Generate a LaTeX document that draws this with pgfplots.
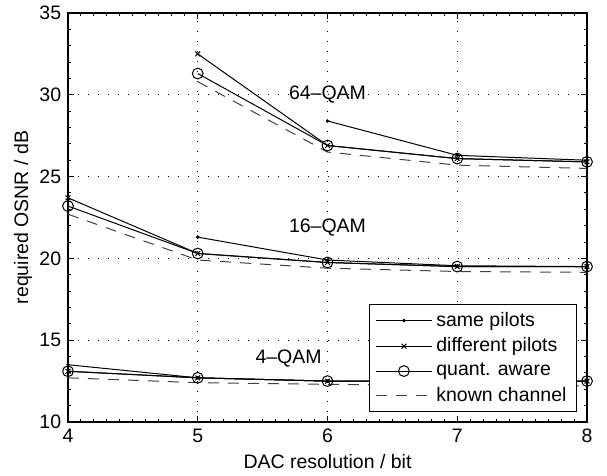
\documentclass[border=0pt]{standalone}
\usepackage{fontspec}
\setmainfont{Liberation Sans}
\usepackage{pgfplots}
\pgfplotsset{compat=1.18}
\begin{document}
\fontsize{9.75pt}{11.7pt}\selectfont
\begin{tikzpicture}
\useasboundingbox (-34pt,-27pt) rectangle (269.5pt,211pt);
\begin{axis}[
  at={(0,0)}, anchor=south west,
  scale only axis, width=259.5pt, height=204.5pt,
  xmin=4, xmax=8, ymin=10, ymax=35,
  xtick={4,5,6,7,8}, ytick={10,15,20,25,30,35},
  minor y tick num=4, minor x tick num=9,
  tick align=inside, tick pos=both,
  major tick length=3pt, minor tick length=1.5pt,
  grid=major,
  major grid style={black, line width=0.4pt, dash pattern=on 0.5pt off 4.5pt},
  axis line style={line width=0.6pt},
  tick style={black, line width=0.5pt},
  font=\fontsize{9.75pt}{11.7pt}\selectfont,
  /pgf/number format/assume math mode=true,
  xlabel={DAC resolution / bit}, ylabel={required OSNR / dB},
  xlabel style={at={(axis description cs:0.5,-0.0978)}, anchor=center},
  ylabel style={at={(axis description cs:-0.0867,0.5)}, anchor=center},
  legend style={at={(rel axis cs:1,0)}, anchor=south east, xshift=-5pt, yshift=5pt,
    draw=black, line width=0.5pt, inner xsep=3pt, inner ysep=1.5pt,
    font=\fontsize{9.75pt}{11.7pt}\selectfont, row sep=0.3pt},
  legend cell align=left,
  legend image code/.code={\draw[mark repeat=2,mark phase=2,#1] plot coordinates {(0pt,0pt)(14pt,0pt)(28pt,0pt)};},
  every axis plot/.append style={line width=0.5pt},
]
% legend series (64-QAM)
\addplot[black, mark=*, mark size=0.6pt] coordinates {(6,28.4) (7,26.3) (8,26.0)};
\addlegendentry{same pilots}
\addplot[black, mark=x, mark size=1.7pt] coordinates {(5,32.5) (6,26.9) (7,26.1) (8,25.9)};
\addlegendentry{different pilots}
\addplot[black, mark=o, mark size=2.7pt] coordinates {(5,31.3) (6,26.9) (7,26.1) (8,25.9)};
\addlegendentry{quant. aware}
\addplot[black!75, dash pattern=on 5.5pt off 4.5pt] coordinates {(5,30.8) (6,26.5) (7,25.7) (8,25.5)};
\addlegendentry{known channel}
% 16-QAM
\addplot[black, mark=*, mark size=0.6pt, forget plot] coordinates {(5,21.3) (6,19.9) (7,19.55) (8,19.5)};
\addplot[black, mark=x, mark size=1.7pt, forget plot] coordinates {(4,23.7) (5,20.3) (6,19.75) (7,19.5) (8,19.5)};
\addplot[black, mark=o, mark size=2.7pt, forget plot] coordinates {(4,23.2) (5,20.3) (6,19.75) (7,19.5) (8,19.5)};
\addplot[black!75, dash pattern=on 5.5pt off 4.5pt, forget plot] coordinates {(4,22.7) (5,19.9) (6,19.4) (7,19.2) (8,19.15)};
% 4-QAM
\addplot[black, mark=*, mark size=0.6pt, forget plot] coordinates {(4,13.5) (5,12.7) (6,12.5) (7,12.5) (8,12.5)};
\addplot[black, mark=x, mark size=1.7pt, forget plot] coordinates {(4,13.1) (5,12.7) (6,12.5) (7,12.5) (8,12.5)};
\addplot[black, mark=o, mark size=2.7pt, forget plot] coordinates {(4,13.1) (5,12.7) (6,12.5) (7,12.5) (8,12.5)};
\addplot[black!75, dash pattern=on 5.5pt off 4.5pt, forget plot] coordinates {(4,12.7) (5,12.4) (6,12.3) (7,12.25) (8,12.2)};
\node at (axis cs:6,30) {64\textendash QAM};
\node at (axis cs:6,21.9) {16\textendash QAM};
\node at (axis cs:5.7,13.9) {4\textendash QAM};
\end{axis}
\end{tikzpicture}
\end{document}
